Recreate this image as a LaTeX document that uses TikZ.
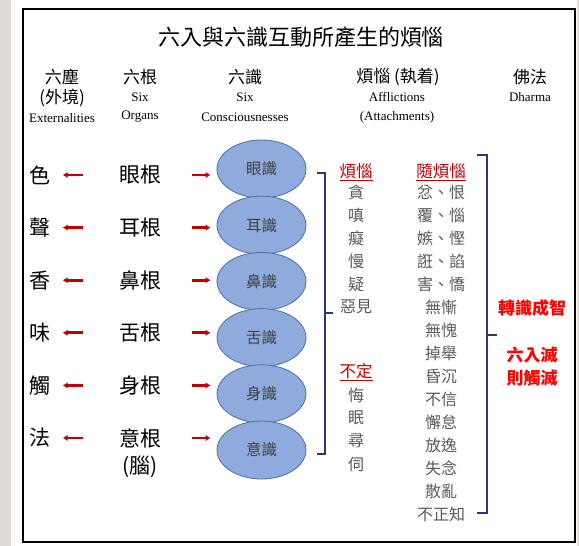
\documentclass[tikz,border=0pt]{standalone}
\usepackage{fontspec}
\setmainfont{Liberation Serif}
\newfontfamily\cjk{Noto Sans CJK TC}
\usetikzlibrary{arrows.meta,positioning,shapes.geometric}
\definecolor{senseblue}{HTML}{8FAADC}
\definecolor{senseedge}{HTML}{4A6FA5}
\definecolor{klesared}{HTML}{C00000}
\definecolor{klesagray}{HTML}{5A5A5A}
\definecolor{bracketnavy}{HTML}{2B3A67}
\definecolor{marble}{HTML}{DEDBD6}
\tikzset{
  headtext/.style={
    font=\cjk\fontsize{17}{17}\selectfont,
    inner sep=0pt
  },
  subtext/.style={
    font=\fontsize{13}{13}\selectfont,
    inner sep=0pt
  },
  rowtext/.style={
    font=\cjk\fontsize{21}{21}\selectfont,
    inner sep=0pt
  },
  sensebox/.style={
    ellipse,
    draw=senseedge,
    fill=senseblue,
    thick,
    minimum width=89pt,
    minimum height=58pt,
    inner sep=0pt,
    text=black!75,
    font=\cjk\fontsize{15.5}{15.5}\selectfont
  },
  itemtext/.style={
    font=\cjk\fontsize{16}{16}\selectfont,
    text=klesagray,
    inner sep=0pt
  },
  grouphead/.style={
    font=\cjk\fontsize{16.5}{16.5}\selectfont,
    text=klesared,
    inner sep=0pt
  },
  dharmatext/.style={
    font=\cjk\bfseries\fontsize{17}{23}\selectfont,
    text=red,
    align=center,
    inner sep=0pt
  },
  redarrow/.style={
    -{Latex[length=5pt,width=6.5pt]},
    line width=2.8pt,
    draw=klesared
  },
  bracket/.style={
    line width=1.6pt,
    draw=bracketnavy
  }
}

\begin{document}
\begin{tikzpicture}[x=1pt,y=-1pt]
% page and frame
\fill[white] (0,0) rectangle (579,546);
\fill[marble] (0,0) rectangle (11,546);
\fill[marble] (577,0) rectangle (579,546);
\draw[line width=2.2pt] (23,9) rectangle (575,542);
\useasboundingbox (0,0) rectangle (579,546);

\node[headtext, font=\cjk\fontsize{22}{22}\selectfont] (title) at (301,37) {六入與六識互動所產生的煩惱};

% column headings
\node[headtext] (hdust) at (62,77) {六塵};
\node[headtext] at (62,98) {(外境)};
\node[subtext] at (62,118) {Externalities};
\node[headtext] (hroot) at (140,77) {六根};
\node[subtext] at (140,97) {Six};
\node[subtext] at (140,117) {Organs};
\node[headtext] (hcons) at (245,77) {六識};
\node[subtext] at (245,97) {Six};
\node[subtext] at (245,117) {Consciousnesses};
\node[headtext] (hklesa) at (398,77) {煩惱 (執着)};
\node[subtext] at (397,97) {Afflictions};
\node[subtext] at (397,117) {(Attachments)};
\node[headtext] (hdharma) at (530,77) {佛法};
\node[subtext] at (530,97) {Dharma};

% six dusts, six roots, six consciousnesses
\foreach \d/\r/\c [count=\i from 0] in {色/眼根/眼識,聲/耳根/耳識,香/鼻根/鼻識,味/舌根/舌識,觸/身根/身識,法/意根/意識} {
  \node[rowtext] (dust\i) at (40,{175+52.6*\i}) {\d};
  \node[rowtext] (root\i) at (140,{175+52.6*\i}) {\r};
  \node[sensebox] (cons\i) at (261.5,{169+56.2*\i}) {\raisebox{-3pt}{\c}};
}
\node[rowtext] (brain) at (140,467) {(腦)};
\foreach \i in {0,...,5} {
  \draw[redarrow, shorten <=36pt, shorten >=12pt] (root\i.west) -- (dust\i.east);
  \draw[redarrow, shorten <=31pt, shorten >=6pt] (root\i.east) -- (root\i.east -| cons\i.west);
}

% root afflictions and indeterminate ones
\node[grouphead] (rootk) at (356,172) {\underline{煩惱}};
\foreach \w [count=\i from 0] in {貪,嗔,癡,慢,疑,惡見} {
  \node[itemtext] (klesa\i) at (356,{192+23*\i}) {\w};
}
\node[grouphead] (indet) at (356,372) {\underline{不定}};
\foreach \w [count=\i from 0] in {悔,眠,尋,伺} {
  \node[itemtext] (indet\i) at (356,{395+23*\i}) {\w};
}

% secondary afflictions
\node[grouphead] (subk) at (441,172) {\underline{隨煩惱}};
\foreach \w [count=\i from 0] in {忿、恨,覆、惱,嫉、慳,誑、諂,害、憍,無慚,無愧,掉舉,昏沉,不信,懈怠,放逸,失念,散亂,不正知} {
  \node[itemtext] (sub\i) at (441,{192+23*\i}) {\w};
}

% brackets
\draw[bracket] (317,173) -- (325,173) -- (325,454) -- (317,454);
\draw[bracket] (325,313) -- (333,313);
\draw[bracket] (477,155) -- (487,155) -- (487,513) -- (477,513);
\draw[bracket] (487,335) -- (497,335);

\node[dharmatext] (wisdom) at (532,308) {轉識成智};
\node[dharmatext] (cease) at (532,367) {六入滅\\則觸滅};
\end{tikzpicture}
\end{document}
